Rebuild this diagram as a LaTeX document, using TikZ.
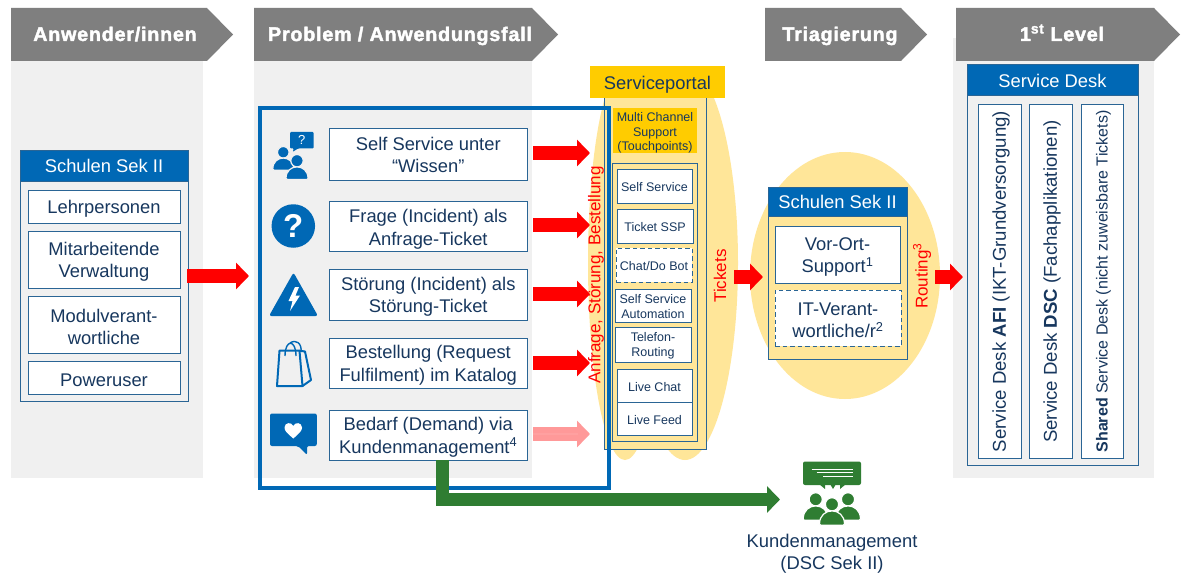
\documentclass[tikz,border=0pt]{standalone}
\usepackage{fontspec}
\setmainfont{Liberation Sans}
\newfontfamily\headfont[FakeBold=2,LetterSpace=4]{Liberation Sans Bold}
\usetikzlibrary{arrows.meta,shapes.geometric}
\definecolor{navy}{HTML}{17375E}
\definecolor{edgeblue}{HTML}{2A6595}
\definecolor{hblue}{HTML}{0068B5}
\definecolor{gbg}{HTML}{F0F0F0}
\definecolor{ghead}{HTML}{7F7F7F}
\definecolor{pale}{HTML}{FFE699}
\definecolor{gold}{HTML}{FFCC00}
\definecolor{dgreen}{HTML}{2F7D32}
\newcommand\fs[1]{\pgfmathsetmacro\blskip{#1*1.22}\fontsize{#1}{\blskip}\selectfont}
\newcommand\lbshift{2.3}
% box without separate label: \hbx[style]{name}{x1}{y1}{x2}{y2}{text}
\newcommand\hbx[7][]{\node[base,#1,minimum width={(#5-#3)*1pt},minimum height={(#6-#4)*1pt}] (#2) at ({(#3+#5)/2},{(#4+#6)/2}) {#7};}
% box with its label set slightly lower, as in the reference
\newcommand\bx[7][]{\hbx[#1]{#2}{#3}{#4}{#5}{#6}{}\node[base,#1,draw=none,fill=none] (#2t) at ({(#3+#5)/2},{(#4+#6)/2+\lbshift}) {#7};}
\newcommand\vbx[7][]{\node[base,#1,minimum width={(#5-#3)*1pt},minimum height={(#6-#4)*1pt}] (#2) at ({(#3+#5)/2},{(#4+#6)/2}) {};\node[base,rotate=90,#1,draw=none,fill=none] (#2t) at ({(#3+#5)/2+1.5},{(#4+#6)/2}) {#7};}
\newcommand\persona[6]{% colour, outline, x, head y, head r, half width
\fill[#1,draw=#2,line width=1.2pt] (#3,#4) circle (#5);
\fill[#1,draw=#2,line width=1.2pt,rounded corners=1.2pt] ({#3-#6},{#4+#5+#6*1.15}) .. controls ({#3-#6},{#4+#5+#6*1.15-#6*1.5}) and ({#3+#6},{#4+#5+#6*1.15-#6*1.5}) .. ({#3+#6},{#4+#5+#6*1.15}) -- cycle;}
\tikzset{
 x=1pt,y=-1pt,
 base/.style={draw=edgeblue,line width=1pt,fill=white,text=navy,inner sep=0pt,align=center,font=\fs{18.35}},
 small/.style={font=\fs{12.5}},
 dashedbox/.style={dash pattern=on 4.5pt off 3pt},
 head/.style={fill=hblue,text=white,draw=edgeblue},
 fat/.style={line width=14pt,draw=red,-{Triangle[length=13pt,width=26pt,fill=red]}},
 vtext/.style={rotate=90,text=red,inner sep=0pt},
 headtext/.style={text=white,inner sep=0pt,anchor=base,font=\headfont\fontsize{19.7}{22}\selectfont},
 portray/.style={fill=pale,draw=none},
}
\begin{document}
\begin{tikzpicture}
\useasboundingbox (0,0) rectangle (1186,575);
\fill[white] (0,0) rectangle (1186,575);
% column backgrounds
\fill[gbg] (11,60) rectangle (203,478);
\fill[gbg] (254,60) rectangle (532,478);
\fill[gbg] (953,38) rectangle (1154,478);
% header arrows
\fill[ghead] (11,8) -- (207,8) -- (233,34.5) -- (207,61) -- (11,61) -- cycle;
\fill[ghead] (254,8) -- (532,8) -- (558,34.5) -- (532,61) -- (254,61) -- cycle;
\fill[ghead] (765,8) -- (901,8) -- (927,34.5) -- (901,61) -- (765,61) -- cycle;
\fill[ghead] (956,8) -- (1154,8) -- (1180,34.5) -- (1154,61) -- (956,61) -- cycle;
\node[headtext] (h1) at (115,41) {Anwender/innen};
\node[headtext] (h2) at (400,41) {Problem / Anwendungsfall};
\node[headtext] (h3) at (840,41) {Triagierung};
\node[headtext] (h4) at (1062,41) {1\textsuperscript{st} Level};
% yellow ellipses
\node[portray,ellipse,minimum width=74pt,minimum height=394pt,inner sep=0pt] (e1) at (625,263) {};
\node[portray,ellipse,minimum width=106pt,minimum height=394pt,inner sep=0pt] (e2) at (685,263) {};
\node[portray,ellipse,minimum width=190pt,minimum height=247pt,inner sep=0pt] (e3) at (845,275.5) {};
% column 1
\hbx[fill=gbg]{t1}{20}{151}{188}{401}{}
\hbx[head]{t1h}{20}{151}{188}{181}{Schulen Sek II}
\bx{a1}{28}{190}{180}{223}{Lehrpersonen}
\bx{a2}{28}{231}{180}{288}{Mitarbeitende\\Verwaltung}
\bx{a3}{28}{296}{180}{353}{Modulverant-\\wortliche}
\bx{a4}{28}{361}{180}{394}{Poweruser}
% column 2
\renewcommand\lbshift{0.5}
\bx{b1}{329.5}{129}{527}{180}{Self Service unter\\“Wissen”}
\renewcommand\lbshift{3.2}
\bx{b2}{329.5}{201}{527}{251}{Frage (Incident) als\\Anfrage-Ticket}
\renewcommand\lbshift{2.3}
\bx{b3}{329.5}{269}{527}{320}{Störung (Incident) als\\Störung-Ticket}
\bx{b4}{329.5}{338}{527}{388}{Bestellung (Request\\Fulfilment) im Katalog}
\bx{b5}{329.5}{410}{527}{460}{Bedarf (Demand) via\\Kundenmanagement\textsuperscript{4}}
% portal
\hbx[draw=edgeblue,fill=pale]{p0}{604}{98}{706}{449}{}
\bx[fill=gold,draw=none]{p1}{590}{66}{725}{98}{Serviceportal}
\bx[fill=gold,draw=none,font=\fontsize{12.5}{14.8}\selectfont]{p2}{613}{108}{697}{153}{Multi Channel\\Support\\(Touchpoints)}
\hbx[fill=pale]{p3}{612}{164}{697}{441}{}
\renewcommand\lbshift{1.2}
\bx[small]{c1}{617}{169}{692}{203}{Self Service}
\bx[small]{c2}{617}{209}{693}{243}{Ticket SSP}
\bx[small,dashedbox]{c3}{616}{248}{692}{282}{Chat/Do Bot}
\bx[small]{c4}{615}{289}{691}{322}{Self Service\\Automation}
\bx[small]{c5}{615}{327}{691}{362}{Telefon-\\Routing}
\bx[small]{c6}{617}{369}{692}{402}{Live Chat}
\bx[small]{c7}{617}{402}{692}{435}{Live Feed}
\renewcommand\lbshift{2.3}
\node[vtext,font=\fs{17}] (tA) at (596,275) {Anfrage, Störung, Bestellung};
\node[vtext,font=\fs{17}] (tT) at (720,276) {Tickets};
% triage
\hbx[fill=pale]{t3}{768}{187}{907}{359}{}
\hbx[head]{t3h}{768}{187}{907}{216}{Schulen Sek II}
\bx{d1}{775}{226}{900}{283}{Vor-Ort-\\Support\textsuperscript{1}}
\bx[dashedbox]{d2}{775}{290}{901}{346}{IT-Verant-\\wortliche/r\textsuperscript{2}}
\node[vtext,font=\fs{17}] (tR) at (922,276) {Routing\textsuperscript{3}};
% column 4
\hbx[fill=gbg]{t4}{967}{65}{1138}{465}{}
\hbx[head]{t4h}{967}{65}{1138}{96}{Service Desk}
\vbx[font=\fs{18.6}]{s1}{978}{105}{1021}{458}{Service Desk \textbf{AFI} (IKT-Grundversorgung)}
\vbx[font=\fs{18.6}]{s2}{1029}{105}{1072}{458}{Service Desk \textbf{DSC} (Fachapplikationen)}
\vbx[font=\fs{16}]{s3}{1081}{105}{1123}{458}{\textbf{Shared} Service Desk (nicht zuweisbare Tickets)}
% icons column 2
\fill[hblue,rounded corners=1pt] (290,132) -- (313.5,132) -- (313.5,148.5) -- (298,148.5) -- (292.5,152) -- (294,148.5) -- (290,148.5) -- cycle;
\node[text=white,font=\fs{13},inner sep=0pt] (q1) at (301.7,140) {?};
\persona{hblue}{gbg}{283.3}{152.3}{5.8}{10.5}
\persona{hblue}{gbg}{297}{160.7}{6.2}{11}
\node[circle,fill=hblue,minimum size=43.5pt,inner sep=0pt] (q2) at (293.3,226) {};
\node[text=white,font=\bfseries\fs{33},inner sep=0pt] (q2t) at (293.3,226) {?};
\fill[hblue,rounded corners=2.5pt] (293.5,272.5) -- (318,316) -- (269,316) -- cycle;
\fill[white] (295,287) -- (288.5,301) -- (292.5,301) -- (290,311) -- (300,295.5) -- (295.5,295.5) -- (299,287) -- cycle;
\begin{scope}[draw=hblue,line width=2pt,line join=round]
\draw (279.5,350.7) -- (299.5,350.7) -- (302.5,386) -- (277,386) -- cycle;
\draw (299.5,350.7) -- (305,351.5) -- (311,380) -- (302.5,386);
\draw[line width=1.4pt] (285,356) .. controls (285,339) and (296,339) .. (296,356);
\draw[line width=1.4pt] (290,343) .. controls (296,339) and (302,343) .. (301,352);
\end{scope}
\fill[hblue,rounded corners=2pt] (270,413.5) -- (316.8,413.5) -- (316.8,446) -- (307,446) -- (307,455) -- (298,446) -- (270,446) -- cycle;
\fill[white] (293.3,438.5) .. controls (287,433) and (284.5,431) .. (284.5,427.5) .. controls (284.5,422.5) and (291.5,421.5) .. (293.3,426) .. controls (295,421.5) and (302,422.5) .. (302,427.5) .. controls (302,431) and (299.5,433) .. (293.3,438.5) -- cycle;
% green icon
\fill[dgreen,rounded corners=2pt] (803,461.5) rectangle (861,485);
\fill[dgreen] (819,484) -- (825,484) -- (825,489) -- cycle (830,484) -- (836,484) -- (833,489) -- cycle (840,484) -- (846,484) -- (840,489) -- cycle;
\draw[white,line width=.9pt] (811.5,469) -- (853,469) (816.5,472.8) -- (853,472.8) (823,476.6) -- (853,476.6);
\persona{dgreen}{white}{815.7}{499.3}{6.6}{12.5}
\persona{dgreen}{white}{848}{499.3}{6.6}{12.5}
\persona{dgreen}{white}{832}{504.3}{6.6}{12.5}
\node[text=navy,font=\fs{18.4},align=center,inner sep=0pt] (km) at (832,554) {Kundenmanagement\\(DSC Sek II)};
% arrow ends
\coordinate (r1) at (590,153);
\coordinate (r2) at (590,225);
\coordinate (r3) at (590,294);
\coordinate (r4) at (590,363);
\coordinate (r5) at (590,434);
\coordinate (kmin) at (780,499.5);
\coordinate (g0) at (442.5,460);
\coordinate (s0) at (187,276);
\coordinate (s1) at (249,276);
\coordinate (s2) at (734,277);
\coordinate (s3) at (763,277);
\coordinate (s4) at (935,277);
\coordinate (s5) at (963,277);
% frame
\node[draw=hblue,line width=4pt,fill=none,minimum width=349pt,minimum height=380pt,inner sep=0pt] (frame) at (434.5,298) {};
% arrows
\draw[fat] (s0) -- (s1);
\foreach \i/\y in {1/153,2/225,3/294,4/363}{\draw[fat] (533,\y) -- (r\i);}
\draw[fat,draw=red!40,-{Triangle[length=13pt,width=26pt,fill=red!40]}] (533,434) -- (r5);
\draw[white!65!red,line width=1.2pt,opacity=.6] (533,434) -- (578,434);
\draw[fat] (s2) -- (s3);
\draw[fat] (s4) -- (s5);
\draw[dgreen,line width=13pt,line join=miter,-{Triangle[length=13pt,width=26pt,fill=dgreen]}] (g0) |- (kmin);
\end{tikzpicture}
\end{document}
